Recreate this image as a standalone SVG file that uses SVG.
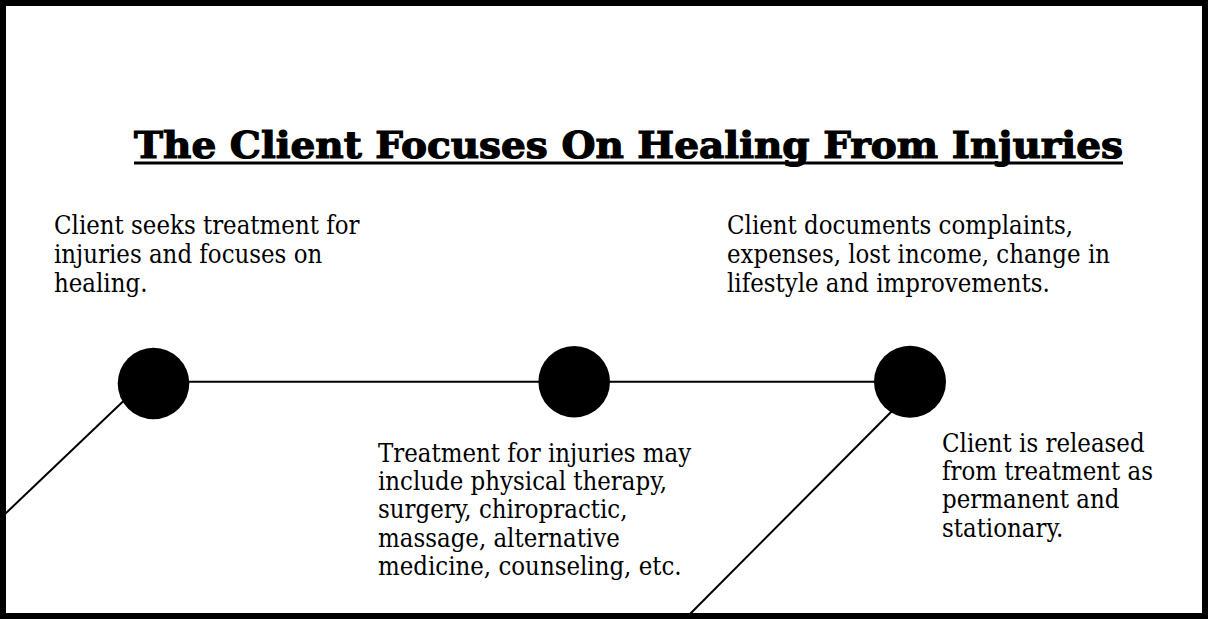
<svg xmlns="http://www.w3.org/2000/svg" width="1208" height="619" viewBox="0 0 1208 619">
<style>
.body{font-family:"DejaVu Serif Condensed","DejaVu Serif",serif;font-stretch:condensed;font-size:25.5px;fill:#000}
.title{font-family:"DejaVu Serif","Liberation Serif",serif;font-weight:bold;font-size:37px;fill:#000;stroke:#000;stroke-width:1.2}
.dot{fill:#000}
.conn{stroke:#000;stroke-width:2;fill:none}
</style>
<rect x="0" y="0" width="1208" height="619" fill="#fff"/>
<rect x="3" y="3" width="1202" height="613" fill="none" stroke="#000" stroke-width="6"/>
<g id="title">
<text class="title" x="134" y="157.5" textLength="989" lengthAdjust="spacingAndGlyphs">The Client Focuses On Healing From Injuries</text>
<rect x="134" y="161.5" width="989" height="3" fill="#000"/>
</g>
<g id="connectors">
<line class="conn" x1="5" y1="514" x2="135" y2="390"/>
<line class="conn" x1="153" y1="381.7" x2="910" y2="381.7"/>
<line class="conn" x1="688" y1="616" x2="895" y2="408"/>
</g>
<g id="node1">
<circle class="dot" cx="153.5" cy="383.5" r="35.8"/>
<text class="body" x="54" y="234"><tspan x="54" y="234">Client seeks treatment for</tspan><tspan x="54" y="263.2">injuries and focuses on</tspan><tspan x="54" y="292.4">healing.</tspan></text>
</g>
<g id="node2">
<circle class="dot" cx="574.2" cy="381.7" r="35.8"/>
<text class="body" x="378" y="461.7"><tspan x="378" y="461.7">Treatment for injuries may</tspan><tspan x="378" y="490">include physical therapy,</tspan><tspan x="378" y="518.3">surgery, chiropractic,</tspan><tspan x="378" y="546.7">massage, alternative</tspan><tspan x="378" y="575">medicine, counseling, etc.</tspan></text>
</g>
<g id="node3">
<circle class="dot" cx="910" cy="381.7" r="36"/>
<text class="body" x="727" y="234"><tspan x="727" y="234">Client documents complaints,</tspan><tspan x="727" y="263.2">expenses, lost income, change in</tspan><tspan x="727" y="292.4">lifestyle and improvements.</tspan></text>
</g>
<g id="node4">
<text class="body" x="942" y="451.7"><tspan x="942" y="451.7">Client is released</tspan><tspan x="942" y="480">from treatment as</tspan><tspan x="942" y="508.3">permanent and</tspan><tspan x="942" y="536.7">stationary.</tspan></text>
</g>
</svg>
